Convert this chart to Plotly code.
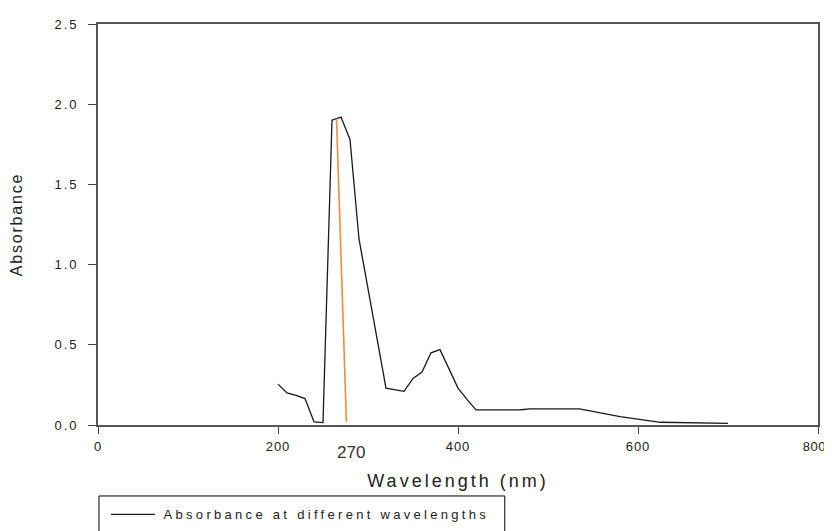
import plotly.graph_objects as go

# Absorbance spectrum
wavelength = [200, 210, 220, 230, 240, 250, 260, 270, 280, 290, 300, 310, 320, 340,
              350, 360, 370, 380, 400, 410, 420, 470, 480, 535, 580, 625, 700]
absorbance = [0.255, 0.20, 0.185, 0.165, 0.02, 0.015, 1.90, 1.92, 1.78, 1.16, 0.85, 0.54,
              0.23, 0.21, 0.29, 0.33, 0.45, 0.47, 0.23, 0.16, 0.094, 0.095, 0.10, 0.10,
              0.052, 0.017, 0.01]

# Orange marker line for the 270 nm peak
peak_line_x = [265, 276]
peak_line_y = [1.91, 0.02]
peak_label = "270"

x_ticks = [0, 200, 400, 600, 800]
y_ticks = [0.0, 0.5, 1.0, 1.5, 2.0, 2.5]

FONT = "Liberation Sans, Arial, sans-serif"


def spaced(s, sp="2px"):
    return f'<span style="letter-spacing:{sp}">{s}</span>'


# x tick texts; the last one is nudged left so it stays inside the window
x_ticktext = [spaced(str(v), "1px") for v in x_ticks]
x_ticktext[-1] = spaced(str(x_ticks[-1]), "0.6px") + "&nbsp;&nbsp;"

fig = go.Figure()
fig.add_trace(go.Scatter(
    x=wavelength, y=absorbance, mode="lines",
    line=dict(color="#1a1a1a", width=1.3),
    name="&nbsp;" + spaced("Absorbance at different wavelengths", "3.3px"),
))
fig.add_trace(go.Scatter(
    x=peak_line_x, y=peak_line_y, mode="lines",
    line=dict(color="#F28C38", width=1.6),
    showlegend=False, hoverinfo="skip",
))

fig.add_annotation(
    x=peak_line_x[1] + 5, xref="x", y=-0.069, yref="paper",
    text=peak_label, showarrow=False, xanchor="center", yanchor="middle",
    font=dict(family=FONT, size=17, color="#333333"),
)

# legend frame (runs off the bottom edge, as in the reference)
fig.add_shape(
    type="rect", xref="paper", yref="paper",
    x0=0.0014, x1=0.565, y0=-0.177, y1=-0.31,
    line=dict(color="#000000", width=1), fillcolor="rgba(0,0,0,0)",
)

# page body has an 8px margin, so the figure is offset by 8px
fig.update_layout(
    width=824, height=523,
    margin=dict(l=90, r=14, t=16, b=106, autoexpand=False),
    plot_bgcolor="white", paper_bgcolor="white",
    font=dict(family=FONT, color="#222222"),
    showlegend=True,
    legend=dict(
        x=0.011, y=-0.1855, xref="paper", yref="paper",
        xanchor="left", yanchor="top", orientation="h",
        borderwidth=0, bgcolor="rgba(0,0,0,0)",
        font=dict(family=FONT, size=13, color="#222222"),
        itemwidth=44,
    ),
)

fig.update_xaxes(
    range=[0, 800], tickvals=x_ticks, ticktext=x_ticktext,
    ticks="outside", ticklen=7, tickcolor="#444444", tickwidth=1.3,
    showline=True, linecolor="#555555", linewidth=1.6, mirror=True,
    showgrid=False, zeroline=False, automargin=False,
    ticklabelstandoff=2, ticklabeloverflow="allow",
    tickfont=dict(family=FONT, size=13, color="#222222"),
    title=dict(text=spaced("Wavelength (nm)", "3px"), standoff=21,
               font=dict(family=FONT, size=18, color="#222222")),
)
fig.update_yaxes(
    range=[0, 2.5], tickvals=y_ticks,
    ticktext=[spaced(f"{v:.1f}") for v in y_ticks],
    ticks="outside", ticklen=8, tickcolor="#444444", tickwidth=1.3,
    showline=True, linecolor="#555555", linewidth=1.6, mirror=True,
    showgrid=False, zeroline=False, automargin=False,
    ticklabelstandoff=7,
    tickfont=dict(family=FONT, size=13, color="#222222"),
    title=dict(text=spaced("Absorbance", "1.8px"), standoff=28,
               font=dict(family=FONT, size=16, color="#222222")),
)

fig.write_html("out.html")
